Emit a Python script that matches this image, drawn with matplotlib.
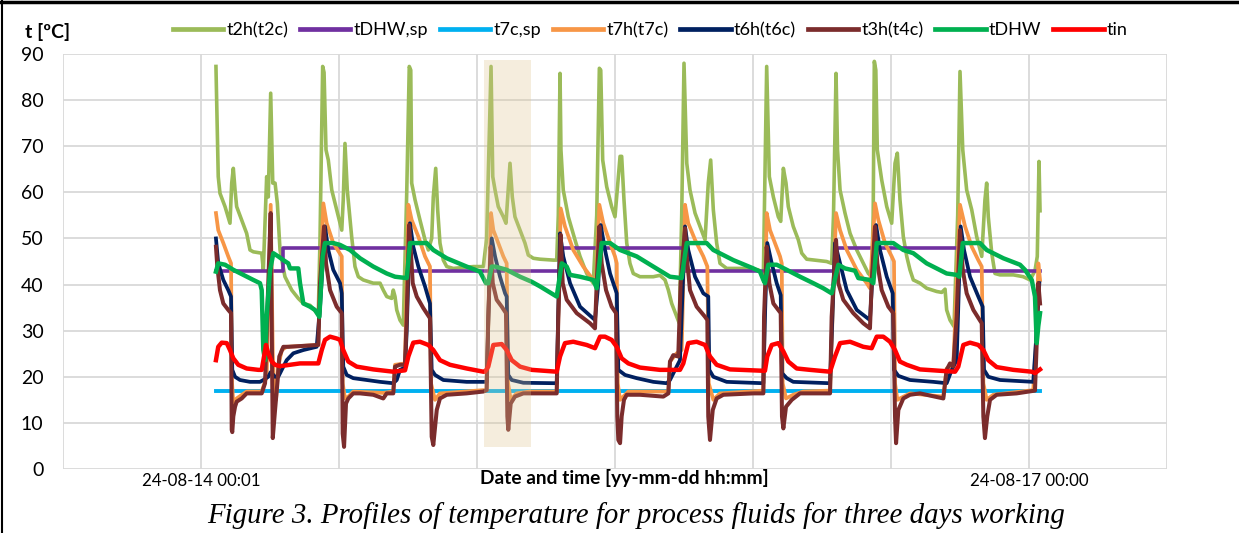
import matplotlib
matplotlib.use("Agg")
import matplotlib.pyplot as plt
from matplotlib.lines import Line2D
from matplotlib.patches import Rectangle

# time in hours after 24-08-14 00:00
t2h_t = [1.30,1.50,1.65,2.09,2.52,2.67,2.81,2.96,3.10,3.54,3.97,4.26,4.55,5.28,5.42,5.71,5.85,6.06,6.24,6.44,6.64,6.87,7.30,7.89,8.46,8.90,9.48,10.20,10.35,10.58,10.70,10.87,11.07,11.37,11.80,12.24,12.37,12.52,12.72,13.10,13.39,13.68,14.11,14.98,15.57,15.85,16.15,16.58,16.72,16.87,17.02,17.30,17.59,17.89,18.11,18.24,18.32,18.61,19.04,19.48,19.77,20.06,20.20,20.41,20.58,20.78,21.07,21.37,21.94,23.68,24.55,24.84,25.22,25.37,25.57,25.85,26.29,26.52,26.87,27.07,27.30,27.74,28.17,28.46,28.90,29.48,30.64,30.93,31.07,31.22,31.30,31.50,31.94,32.52,32.96,33.54,34.11,34.41,34.64,34.76,34.93,35.28,35.71,36.00,36.44,36.58,36.78,37.02,37.30,37.59,38.17,39.33,39.91,40.35,40.64,40.93,41.37,41.59,41.80,42.00,42.24,42.52,42.96,43.39,43.83,44.11,44.32,44.55,44.84,45.13,45.71,47.45,48.46,48.90,49.19,49.42,49.77,50.20,50.41,50.64,50.87,51.07,51.50,51.94,52.24,52.67,54.40,54.84,55.00,55.22,55.35,55.57,56.00,56.44,57.02,57.59,58.03,58.32,58.45,58.55,58.68,58.81,59.19,59.63,60.06,60.35,60.55,60.78,61.07,61.37,61.65,61.94,62.52,63.10,63.97,64.41,64.70,64.84,65.13,65.48,65.80,66.00,66.24,66.58,67.02,67.45,67.89,68.17,68.32,68.46,68.76,69.04,69.48,70.64,71.50,72.09,72.52,72.72,72.87,72.96]
t2h_v = [87.3,63.4,59.8,56.9,53.3,62.0,65.2,60.5,56.9,54.0,51.1,47.5,47.1,46.8,43.2,63.4,59.0,81.5,62.0,62.0,57.6,47.5,41.7,38.8,37.0,35.9,35.5,33.5,50.0,87.3,86.0,69.2,67.0,60.5,56.2,51.8,58.4,70.6,60.5,50.4,43.9,41.7,41.0,40.3,40.3,38.8,37.4,37.0,38.8,37.4,34.5,32.3,31.2,60.0,87.3,86.5,62.0,58.4,54.0,49.7,47.5,50.0,59.0,65.2,56.2,49.0,45.3,43.9,43.5,43.9,43.9,50.0,87.3,63.4,60.5,56.9,54.7,53.3,66.3,59.0,54.7,51.8,49.0,46.4,45.7,45.5,45.3,45.3,55.0,85.8,69.2,60.5,54.7,49.7,46.1,42.4,40.3,55.0,86.9,86.5,67.0,61.2,56.9,54.7,67.8,67.8,58.4,49.0,44.6,42.4,41.7,41.7,42.0,41.0,38.8,35.9,33.0,31.6,55.0,88.0,66.3,60.5,55.5,52.6,49.7,62.0,67.0,56.2,49.0,44.6,43.5,43.5,43.2,42.0,87.3,63.4,59.0,54.7,53.7,65.2,62.0,56.9,52.6,49.7,46.8,45.5,45.0,44.6,55.0,85.8,69.2,60.5,55.5,51.1,47.5,44.6,42.4,41.7,55.0,88.4,86.5,69.2,62.7,56.9,53.3,66.3,68.5,58.4,50.4,46.1,43.2,41.0,40.3,39.2,38.5,38.3,39.0,34.5,32.3,30.9,55.0,86.2,69.2,60.5,56.2,50.4,46.1,58.4,62.0,54.7,46.8,42.4,42.1,42.1,41.7,41.0,43.0,46.1,66.7,56.0]

tdhw_sp_t = [1.30, 7.1, 18.1, 31.4, 42.1, 55.2, 66.0, 72.96]
tdhw_sp_v = [43, 48, 43, 48, 43, 48, 43]

t7c_sp_t = [1.30, 72.96]
t7c_sp_v = [17.0, 17.0]

t7h_t = [1.30,1.50,1.94,2.37,2.61,2.70,2.81,3.10,3.97,5.28,5.71,6.06,6.24,6.35,6.52,6.72,7.02,7.45,10.20,10.35,10.64,10.93,11.50,12.24,12.32,12.52,12.81,13.24,15.85,16.72,16.87,17.74,18.03,18.32,18.90,19.48,19.91,20.00,20.35,20.78,24.55,24.84,25.22,25.42,25.85,26.29,26.58,26.70,26.93,27.45,28.61,30.93,31.28,31.65,32.37,33.24,34.11,34.35,34.64,34.98,35.57,36.00,36.15,36.24,36.44,36.72,37.16,40.64,40.78,41.37,41.80,42.09,42.37,42.96,43.68,44.03,44.15,44.55,45.13,48.90,49.19,49.48,49.91,50.35,50.50,50.58,50.87,51.50,52.37,54.70,55.22,55.57,56.15,57.02,57.89,58.17,58.61,58.90,59.48,60.06,60.26,60.35,60.55,60.78,61.65,64.55,64.84,65.42,66.00,66.44,67.02,67.59,67.89,68.03,68.32,68.90,72.37,72.67,72.81,72.96]
t7h_v = [55.5,51.8,49.0,46.1,44.6,18.6,14.2,15.3,16.8,16.8,20.0,57.3,25.0,18.6,15.0,22.2,25.8,26.5,26.9,40.0,57.6,53.3,49.0,46.1,18.6,15.3,15.7,16.8,16.5,16.8,22.6,22.9,57.3,54.0,50.4,46.1,43.9,18.6,15.0,16.4,17.1,17.1,55.5,51.8,49.0,46.1,44.6,18.6,15.0,16.4,16.8,16.8,56.5,52.6,47.5,43.9,41.0,40.3,57.3,53.3,49.0,46.1,44.6,18.6,15.0,15.7,16.8,16.8,23.3,25.1,25.8,57.3,53.3,49.7,46.1,43.9,18.6,15.0,16.4,17.0,55.5,51.8,49.0,46.1,44.6,18.6,15.3,16.1,16.8,17.0,55.5,51.8,47.5,43.2,40.3,39.2,57.6,54.0,49.0,46.1,45.0,18.6,15.0,15.3,16.4,15.7,21.8,22.6,57.3,52.6,48.2,45.3,43.9,18.6,15.0,16.1,17.1,30.0,44.6,41.0]

t6h_t = [1.30,1.50,1.94,2.37,2.61,2.72,2.96,3.39,4.26,5.13,5.42,5.85,6.06,6.44,6.72,7.02,7.45,8.03,8.90,10.06,10.35,10.78,11.07,11.50,12.09,12.24,12.37,12.67,13.24,14.41,15.57,16.72,17.02,17.30,17.74,17.89,18.17,18.46,18.90,19.48,19.91,20.06,20.35,21.07,23.10,24.84,25.07,25.28,25.57,26.00,26.44,26.58,26.72,27.02,28.03,30.93,31.22,31.50,32.09,32.96,34.26,34.55,34.76,35.13,35.57,36.15,36.29,36.87,37.89,39.33,40.50,40.78,41.22,41.65,42.09,42.37,42.96,43.68,44.11,44.20,44.55,45.71,48.90,49.04,49.24,49.63,50.06,50.41,50.52,50.93,51.50,54.70,55.13,55.57,56.15,57.02,58.17,58.46,58.70,59.04,59.63,60.15,60.26,60.64,61.65,63.68,64.84,65.28,65.71,66.06,66.35,66.87,67.59,67.97,68.09,68.46,69.48,72.37,72.67,72.90]
t6h_v = [50.0,44.6,41.0,38.8,37.4,21.5,20.0,19.3,18.9,18.9,19.3,20.0,21.0,20.0,20.0,21.5,23.6,25.1,25.8,26.5,35.0,52.6,47.5,43.2,40.3,38.1,22.2,20.4,19.7,19.3,18.9,18.6,19.3,21.5,22.0,30.0,53.3,48.2,43.9,39.6,35.9,21.5,20.4,19.3,18.9,18.9,40.3,50.0,46.1,41.7,38.1,37.4,20.4,19.3,18.7,18.6,51.1,46.1,40.3,35.2,32.3,40.3,52.9,47.5,42.4,38.1,21.5,20.4,19.7,18.9,18.6,19.3,21.5,23.6,52.6,47.5,41.7,38.1,37.4,21.5,20.0,18.9,18.6,33.0,49.0,44.6,40.3,37.7,20.8,19.7,18.9,18.6,49.0,44.6,38.8,34.5,32.3,45.0,52.9,47.5,41.7,38.1,21.5,20.2,19.3,18.9,18.6,21.5,23.6,52.6,47.5,41.7,37.4,35.2,21.5,20.0,19.3,18.9,30.0,40.3]

t3h_t = [1.30,1.42,1.65,1.94,2.37,2.61,2.67,2.72,2.81,2.96,3.10,3.54,3.97,5.28,5.57,5.85,6.06,6.17,6.24,6.44,6.64,6.81,7.16,7.59,10.20,10.35,10.70,10.87,11.22,11.80,12.24,12.32,12.44,12.61,12.81,13.24,13.83,14.98,15.85,16.15,16.72,16.87,17.30,17.74,17.89,18.09,18.24,18.41,18.76,19.33,19.91,20.06,20.20,20.50,20.78,21.37,23.10,24.55,24.84,24.98,25.19,25.37,25.71,26.15,26.52,26.64,26.72,26.93,27.30,28.03,30.93,31.07,31.28,31.45,31.80,32.67,33.83,34.26,34.41,34.64,34.84,35.22,35.71,36.09,36.20,36.29,36.44,36.58,36.78,37.02,38.17,40.20,40.64,40.78,41.07,41.50,41.71,42.09,42.24,42.52,43.10,43.83,44.03,44.11,44.26,44.50,44.84,45.42,48.03,48.90,48.96,49.19,49.42,49.77,50.41,50.52,50.64,50.87,51.37,52.09,54.70,54.84,55.22,55.42,55.85,56.72,57.59,58.17,58.32,58.61,58.81,59.19,59.77,60.20,60.35,60.44,60.64,61.07,61.65,62.52,64.55,64.84,65.13,65.42,65.71,66.00,66.24,66.58,67.16,67.89,68.03,68.17,68.37,68.61,69.19,70.93,72.52,72.67,72.81,72.96]
t3h_v = [48.2,43.9,38.8,35.9,34.5,33.8,8.5,8.0,11.4,13.5,14.6,15.3,16.4,16.4,18.6,40.3,55.5,25.8,6.7,12.8,18.6,24.4,26.5,26.5,26.9,40.3,52.6,44.6,38.8,35.2,33.8,7.7,4.8,14.2,15.3,16.4,16.4,16.1,15.3,16.4,16.4,22.2,22.6,22.6,33.0,52.9,47.5,40.3,37.4,34.9,32.7,7.0,5.2,12.8,15.3,16.1,16.4,16.8,17.1,33.0,48.2,40.3,36.7,35.2,33.8,11.4,8.5,14.2,15.7,16.4,16.4,33.0,50.8,40.3,36.7,33.8,31.6,30.5,40.3,52.6,44.6,38.8,35.2,33.8,11.4,6.3,5.6,11.4,15.0,16.1,16.1,15.7,16.4,23.3,24.7,24.4,40.3,52.2,46.1,38.8,35.2,33.0,32.3,11.4,6.3,12.8,15.3,16.1,16.4,16.4,33.0,48.2,40.3,35.9,33.8,11.4,8.8,13.5,15.0,16.4,16.4,33.0,49.7,40.3,36.7,33.8,31.6,30.5,40.3,52.6,44.6,38.8,35.2,33.8,11.4,5.6,12.8,15.3,16.1,16.4,15.3,21.5,22.9,22.2,33.0,51.8,43.2,38.1,34.5,31.6,11.4,6.7,11.4,15.0,16.1,16.4,17.0,27.3,40.3,35.9]

tdhw_t = [1.30,1.50,2.09,2.81,3.68,4.55,5.13,5.28,5.42,5.57,5.71,6.00,6.29,6.72,7.16,7.59,7.74,8.46,8.61,8.90,9.48,9.91,10.29,10.58,10.78,11.50,12.09,12.96,13.83,14.98,16.15,16.87,17.89,18.17,19.63,20.20,21.37,23.10,24.26,24.78,24.98,25.28,25.57,26.58,27.74,28.76,29.48,30.93,31.37,31.80,32.09,32.96,34.11,34.41,34.84,35.57,36.44,37.89,39.33,40.78,41.80,42.00,42.24,43.97,44.55,46.29,48.03,48.61,48.90,49.04,49.33,50.06,50.93,52.09,53.24,54.11,54.84,55.42,56.00,56.87,57.16,58.17,58.46,58.76,60.20,61.07,61.94,63.10,64.84,65.71,65.94,66.24,67.74,68.32,69.77,71.22,71.65,72.24,72.52,72.67,72.81,72.96]
tdhw_v = [42.8,44.6,44.3,43.2,42.1,41.0,40.3,38.8,25.8,23.6,33.0,43.0,46.8,46.1,45.3,44.6,43.5,43.5,40.3,35.9,35.2,34.5,33.0,46.1,49.0,49.0,48.6,47.5,45.7,43.9,42.4,41.7,41.4,49.0,49.0,47.5,45.7,43.9,42.8,40.3,40.3,43.9,43.9,43.2,41.7,40.6,39.6,37.4,44.6,43.9,42.1,41.7,41.0,39.2,49.0,49.0,47.5,46.1,43.9,41.7,41.4,45.0,49.0,49.0,47.5,45.3,43.5,42.8,41.0,40.3,44.3,44.3,43.2,41.7,40.3,39.2,38.1,44.3,43.5,43.0,41.4,41.0,40.3,49.0,49.0,47.5,46.8,44.6,42.4,42.1,41.7,49.0,49.0,47.5,45.7,44.3,43.2,41.0,37.4,27.3,31.0,33.8]

tin_t = [1.30,1.50,1.80,2.24,2.52,2.81,3.24,3.97,4.98,5.28,5.42,5.65,5.85,6.15,6.44,6.87,7.74,8.61,10.20,10.50,10.78,11.22,11.80,12.09,12.37,12.81,13.54,14.98,16.72,17.74,18.03,18.46,19.04,19.77,20.20,20.78,21.65,23.10,24.55,24.70,24.98,25.42,26.15,26.58,27.02,27.74,28.76,30.93,31.22,31.65,32.37,33.54,34.26,34.70,35.13,35.71,36.15,36.58,37.16,38.17,39.91,41.65,41.94,42.37,43.10,43.83,44.26,44.84,46.00,48.90,49.04,49.24,49.63,50.20,50.64,51.07,51.80,52.96,54.70,55.13,55.57,56.44,57.59,58.32,58.76,59.33,59.91,60.35,60.78,61.37,62.52,64.26,65.57,65.85,66.29,66.87,67.59,68.03,68.46,69.19,70.64,72.24,72.52,72.96]
tin_v = [23.6,26.5,27.4,27.3,25.8,24.0,22.6,21.8,21.5,21.5,23.5,26.9,25.1,23.3,22.6,22.3,22.6,22.9,22.9,25.8,28.0,28.7,28.3,28.0,25.8,23.3,22.2,21.6,21.1,21.4,24.4,27.4,27.6,26.9,25.8,23.6,22.6,21.8,21.1,21.1,22.2,26.9,27.1,25.8,23.6,22.2,21.5,21.1,24.4,27.3,27.6,26.9,26.2,28.7,28.7,28.0,26.5,24.0,22.9,22.0,21.5,21.5,22.9,27.3,27.6,26.9,24.4,22.6,21.6,21.3,21.3,24.4,26.9,27.3,25.5,23.3,21.8,21.5,21.1,24.4,27.3,27.6,26.5,26.2,28.7,28.7,27.6,25.8,23.3,22.6,21.6,21.3,21.1,22.2,26.9,27.4,26.9,25.8,23.6,22.1,21.5,21.1,20.8,21.6]

series_names = ["t2h(t2c)", "tDHW,sp", "t7c,sp", "t7h(t7c)", "t6h(t6c)", "t3h(t4c)", "tDHW", "tin"]
series_colors = ["#9BBB59", "#7030A0", "#00B0F0", "#F79646", "#002060", "#7B2C2C", "#00B050", "#FF0000"]

x_tick_pos = [0, 72]
x_tick_labels = ["24-08-14 00:01", "24-08-17 00:00"]
highlight_span = (24.6, 28.7)
highlight_yrange = (4.8, 88.7)

plt.rcParams['font.family'] = ['Lato', 'DejaVu Sans']

fig = plt.figure(figsize=(12.39, 5.33), dpi=100)
ax = fig.add_axes([63/1239, 1-469/533, (1167-63)/1239, (469-54)/533])

ax.set_xlim(-12, 84)
ax.set_ylim(0, 90)
ax.set_xticks(range(-12, 85, 12))
ax.set_xticklabels(["" if v not in x_tick_pos else x_tick_labels[x_tick_pos.index(v)] for v in range(-12, 85, 12)], fontsize=12.2)
ax.set_yticks(range(0, 91, 10))
ax.set_yticklabels([str(v) for v in range(0, 91, 10)], fontsize=14)
ax.tick_params(axis='both', length=0)
ax.tick_params(axis='y', pad=14)
ax.tick_params(axis='x', pad=3)
ax.grid(True, color="#D9D9D9", linewidth=1.3, zorder=0)
for s in ax.spines.values():
    s.set_visible(False)
ax.set_axisbelow(True)

ts = [t2h_t, None, None, t7h_t, t6h_t, t3h_t, tdhw_t, tin_t]
vs = [t2h_v, None, None, t7h_v, t6h_v, t3h_v, tdhw_v, tin_v]
lws = [2.6, 2.6, 2.8, 2.7, 2.7, 2.9, 3.2, 3.2]
handles = []
for i, name in enumerate(series_names):
    if name == "tDHW,sp":
        h = ax.step(tdhw_sp_t, tdhw_sp_v + [tdhw_sp_v[-1]], where='post', color=series_colors[i], lw=lws[i], label=name, zorder=2 + i)[0]
    elif name == "t7c,sp":
        h = ax.plot(t7c_sp_t, t7c_sp_v, color=series_colors[i], lw=lws[i], label=name, zorder=2 + i)[0]
    else:
        h = ax.plot(ts[i], vs[i], color=series_colors[i], lw=lws[i], label=name, zorder=2 + i, solid_joinstyle='round')[0]
    handles.append(h)

ax.add_patch(Rectangle((highlight_span[0], highlight_yrange[0]), highlight_span[1] - highlight_span[0],
                       highlight_yrange[1] - highlight_yrange[0], facecolor=(222/255, 198/255, 145/255),
                       alpha=0.3, edgecolor='none', zorder=20))

leg = fig.legend(handles=[Line2D([0], [0], color=c, lw=3.4) for c in series_colors], labels=series_names,
                 loc='center', bbox_to_anchor=(650/1239, 1-30/533), ncol=8, frameon=False, fontsize=13,
                 handlelength=2.8, handletextpad=0.17, columnspacing=0.65)

fig.text(25/1239, 1-32/533, "t [ºC]", fontsize=14, fontweight='bold', ha='left', va='center')
fig.text(624/1239, 1-478/533, "Date and time [yy-mm-dd hh:mm]", fontsize=13.8, fontweight='bold', ha='center', va='center')
fig.text(636/1239, 1-516/533, "Figure 3. Profiles of temperature for process fluids for three days working",
         fontsize=20.8, style='italic', family='Liberation Serif', ha='center', va='center')

fig.add_artist(Line2D([0, 1], [1-2/533, 1-2/533], color='black', lw=2.5, transform=fig.transFigure))
fig.add_artist(Line2D([2/1239, 2/1239], [0, 1], color='black', lw=1.5, transform=fig.transFigure))

fig.savefig("out.png", dpi=100)
